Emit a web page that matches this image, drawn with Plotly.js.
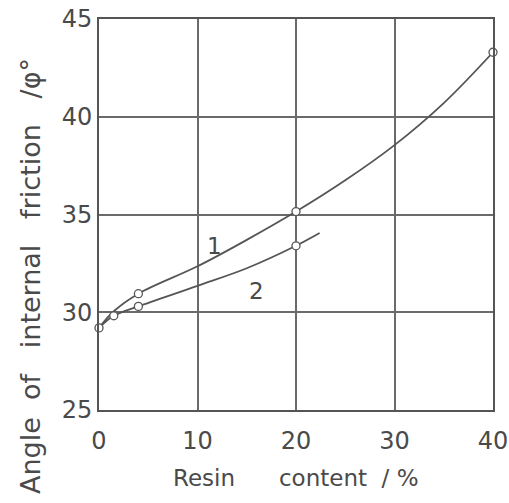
<!DOCTYPE html>
<html>
<head>
<meta charset="utf-8">
<script src="https://cdn.plot.ly/plotly-3.0.1.min.js"></script>
<style>html,body{margin:0;padding:0;background:#fff;}#chart{width:509px;height:503px;}</style>
</head>
<body>
<div id="chart"></div>
<script>
// Curve 1 (line)
const curve1X = [0, 1.5, 4, 10, 15, 20, 25, 30, 35, 40];
const curve1Y = [29.2, 30.05, 30.95, 32.35, 33.7, 35.15, 36.75, 38.55, 40.7, 43.3];
// Curve 2
const curve2X = [0, 1.5, 4, 10, 15, 20, 22.4];
const curve2Y = [29.2, 29.82, 30.3, 31.35, 32.25, 33.4, 34.05];
// Measured points (open circles)
const points1X = [0, 4, 20, 40];
const points1Y = [29.2, 30.95, 35.15, 43.3];
const points2X = [1.5, 4, 20];
const points2Y = [29.82, 30.3, 33.4];
// Curve labels
const labelText = ['1', '2'];
const labelX = [11.7, 16];
const labelY = [33.4, 31.1];
// Axis ticks
const xTicks = [0, 10, 20, 30, 40];
const yTicks = [25, 30, 35, 40, 45];

const ink = '#555555';
const gridInk = '#6a6a6a';
const textInk = '#4a4a4a';
const fontFam = '"DejaVu Sans", sans-serif';
const nb = '\u00a0';

const lineStyle = {color: ink, width: 1.8, shape: 'spline', smoothing: 1};
const markerStyle = {symbol: 'circle', size: 8, color: '#ffffff', line: {color: ink, width: 1.3}};

const traces = [
  {x: curve1X, y: curve1Y, mode: 'lines', line: lineStyle, hoverinfo: 'skip'},
  {x: curve2X, y: curve2Y, mode: 'lines', line: lineStyle, hoverinfo: 'skip'},
  {x: points1X, y: points1Y, mode: 'markers', marker: markerStyle, cliponaxis: false},
  {x: points2X, y: points2Y, mode: 'markers', marker: markerStyle, cliponaxis: false}
];

const annotations = labelText.map((t, i) => ({
  x: labelX[i], y: labelY[i], xref: 'x', yref: 'y', text: t, showarrow: false,
  font: {family: fontFam, size: 23, color: textInk}
}));

annotations.push({
  xref: 'paper', yref: 'paper', x: 0.5, y: 0, yshift: -83, xshift: 0,
  text: 'Resin' + nb.repeat(6) + 'content' + nb.repeat(2) + '/ %',
  showarrow: false, font: {family: fontFam, size: 23, color: textInk}
});
annotations.push({
  xref: 'paper', yref: 'paper', x: 0, y: 0.5, xshift: -86, yshift: -62,
  text: 'Angle' + nb.repeat(2) + 'of' + nb.repeat(3) + 'internal' + nb.repeat(3) + 'friction' + nb.repeat(3) + '/φ°',
  textangle: -90, showarrow: false, font: {family: fontFam, size: 27, color: textInk}
});

const axisBase = {
  showgrid: true, gridcolor: gridInk, gridwidth: 2,
  showline: true, linecolor: ink, linewidth: 2, mirror: true,
  zeroline: false, ticks: '', fixedrange: true,
  tickfont: {family: fontFam, size: 24, color: textInk}
};

const layout = {
  width: 509, height: 503,
  margin: {l: 99, r: 16, t: 19, b: 93},
  paper_bgcolor: '#ffffff', plot_bgcolor: '#ffffff',
  showlegend: false,
  xaxis: Object.assign({}, axisBase, {range: [0, 40], tickvals: xTicks, ticklabelstandoff: 8}),
  yaxis: Object.assign({}, axisBase, {range: [25, 45], tickvals: yTicks, ticklabelstandoff: 0}),
  annotations: annotations
};

Plotly.newPlot('chart', traces, layout, {displayModeBar: false, staticPlot: true});
</script>
</body>
</html>
